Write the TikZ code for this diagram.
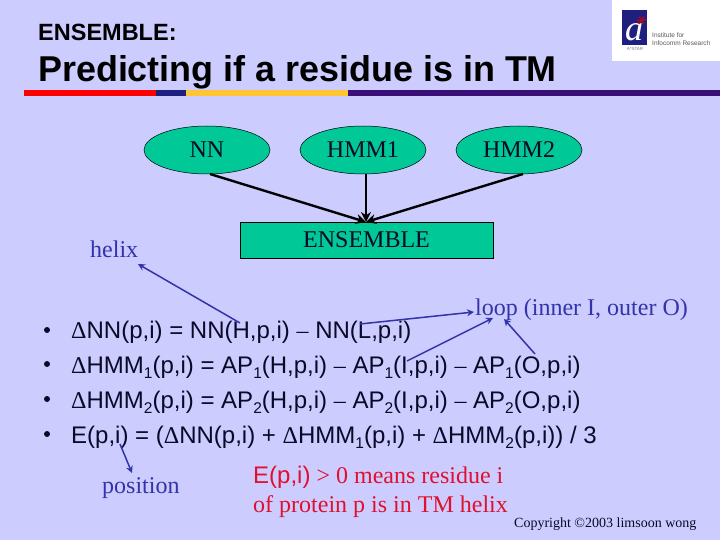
\documentclass[tikz,border=0pt]{standalone}
\usepackage{fontspec}
\setmainfont{Liberation Serif}
\setsansfont{Liberation Sans}
\definecolor{bgc}{HTML}{CCCCFF}
\definecolor{grn}{HTML}{00C896}
\definecolor{blu}{HTML}{3333AA}
\definecolor{rdd}{HTML}{E0102F}
\definecolor{nvy}{HTML}{1F1F80}
\definecolor{yel}{HTML}{FFC533}
\definecolor{ppl}{HTML}{3A1078}
\definecolor{txt}{HTML}{0A0A28}
\newcommand{\Dl}{{\rmfamily Δ}}
\newcommand{\Mn}{{\rmfamily –}}
\newcommand{\Sb}[1]{\raisebox{-5pt}{\fontsize{15.5}{15.5}\selectfont #1}}
\newcommand{\Dn}[1]{\raisebox{-1.5pt}{#1}}
\tikzset{
  x=1pt,y=-1pt,
  model/.style={ellipse,draw=black,line width=.5pt,fill=grn,minimum width=126pt,minimum height=48pt,inner sep=0pt,font=\fontsize{24}{24}\selectfont,text=txt},
  ensbox/.style={rectangle,draw=black,line width=.7pt,fill=grn,minimum width=253pt,minimum height=36pt,inner sep=0pt,font=\fontsize{24}{24}\selectfont,text=txt},
  lbl/.style={anchor=base west,inner sep=0pt,text=blu,font=\fontsize{24}{24}\selectfont},
  redt/.style={anchor=base west,inner sep=0pt,text=rdd,font=\fontsize{24}{24}\selectfont},
  eqn/.style={anchor=base west,inner sep=0pt,text=txt,font=\sffamily\fontsize{24}{24}\selectfont},
  bul/.style={circle,fill=txt,inner sep=0pt,minimum size=6pt},
  thick arr/.style={draw=black,line width=2.4pt,-{Stealth[length=10pt,width=10pt]}},
  blue arr/.style={draw=blu,line width=1.5pt,-{Stealth[length=7pt,width=7pt]}}
}
\usetikzlibrary{shapes.geometric,arrows.meta}
\begin{document}
\begin{tikzpicture}
\useasboundingbox (0,0) rectangle (720,540);
\fill[bgc] (0,0) rectangle (720,540);
% logo
\fill[white] (612,0) rectangle (720,61);
\fill[nvy] (622,10) rectangle (647,45);
\node[inner sep=0pt,text=white,font=\rmfamily\itshape\fontsize{36}{36}\selectfont] (logoa) at (634,32) {a};
\node[inner sep=0pt,rotate=30,text=red!85!black,font=\fontsize{22}{22}\selectfont] (logos) at (643,24) {*};
\node[inner sep=0pt,anchor=base,text=gray,font=\sffamily\fontsize{4.5}{4.5}\selectfont] (logoc) at (635,51) {A*STAR};
\node[anchor=base west,inner sep=0pt,text=gray!70!black,font=\sffamily\fontsize{6.5}{6.5}\selectfont] (logot1) at (652,38) {Institute for};
\node[anchor=base west,inner sep=0pt,text=gray!70!black,font=\sffamily\fontsize{6.5}{6.5}\selectfont] (logot2) at (652,46) {Infocomm Research};
% title
\node[anchor=base west,inner sep=0pt,text=black,font=\sffamily\bfseries\fontsize{23.5}{23.5}\selectfont] (t1) at (38,41) {ENSEMBLE:};
\node[anchor=base west,inner sep=0pt,text=black,font=\sffamily\bfseries\fontsize{35.9}{36}\selectfont] (t2) at (38,82) {Predicting if a residue is in TM};
\fill[red]  (24,90) rectangle (156,96);
\fill[nvy]  (156,90) rectangle (186,96);
\fill[yel]  (186,90) rectangle (348,96);
\fill[ppl]  (348,90) rectangle (720,96);
% nodes
\node[model] (nn) at (207,150) {\Dn{NN}};
\node[model] (h1) at (363,150) {\Dn{HMM1}};
\node[model] (h2) at (519,150) {\Dn{HMM2}};
\node[ensbox] (ens) at (366.5,240) {\Dn{ENSEMBLE}};
\coordinate (enst) at (366,222);
\coordinate (nnb) at (210,174);
\coordinate (h1b) at (366,174);
\coordinate (h2b) at (523,174);
\draw[thick arr] (nnb) -- (enst);
\draw[thick arr] (h1b) -- (enst);
\draw[thick arr] (h2b) -- (enst);
% labels
\node[lbl] (helix) at (90,258) {helix};
\node[lbl] (loop) at (475,315) {loop (inner I, outer O)};
\node[lbl] (pos) at (102,493) {position};
\node[redt] (r1) at (253,483) {{\sffamily E(p,i)} \textgreater{} 0 means residue i};
\node[redt] (r2) at (253,512) {of protein p is in TM helix};
\node[anchor=base west,inner sep=0pt,text=txt,font=\fontsize{14}{14}\selectfont] (copy) at (514,527) {Copyright ©2003 limsoon wong};
% equations
\node[bul] (b1) at (47,330) {};
\node[bul] (b2) at (47,364) {};
\node[bul] (b3) at (47,399) {};
\node[bul] (b4) at (47,434) {};
\node[eqn] (e1) at (71,338) {\Dl NN(p,i) = NN(H,p,i) \Mn{} NN(L,p,i)};
\node[eqn] (e2) at (71,373) {\Dl HMM\Sb{1}(p,i) = AP\Sb{1}(H,p,i) \Mn{} AP\Sb{1}(I,p,i) \Mn{} AP\Sb{1}(O,p,i)};
\node[eqn] (e3) at (71,408) {\Dl HMM\Sb{2}(p,i) = AP\Sb{2}(H,p,i) \Mn{} AP\Sb{2}(I,p,i) \Mn{} AP\Sb{2}(O,p,i)};
\node[eqn] (e4) at (71,443) {E(p,i) = (\Dl NN(p,i) + \Dl HMM\Sb{1}(p,i) + \Dl HMM\Sb{2}(p,i)) / 3};
% blue arrows
\coordinate (hS) at (240,323);
\coordinate (hE) at (138,264);
\coordinate (lS) at (360,324);
\coordinate (lE) at (474,312);
\coordinate (iS) at (407,361);
\coordinate (iE) at (493,318);
\coordinate (oS) at (535,354);
\coordinate (oE) at (504,319);
\coordinate (pS) at (120,444);
\coordinate (pE) at (132,473);
\draw[blue arr] (hS) -- (hE);
\draw[blue arr] (lS) -- (lE);
\draw[blue arr] (iS) -- (iE);
\draw[blue arr] (oS) -- (oE);
\draw[blue arr] (pS) -- (pE);
\end{tikzpicture}
\end{document}
